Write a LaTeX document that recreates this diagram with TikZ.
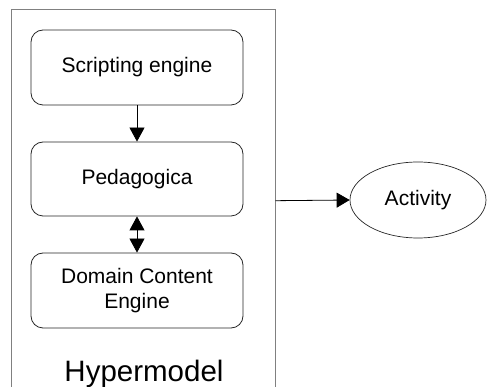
\documentclass[tikz,border=0pt]{standalone}
\usepackage{fontspec}
\setmainfont{Liberation Sans}
\usetikzlibrary{shapes.geometric,arrows.meta}
\begin{document}
\begin{tikzpicture}[x=1pt,y=-1pt,
  box/.style={draw=black!85,line width=0.8pt,rounded corners=12pt,minimum width=212pt,minimum height=75pt,align=center,inner sep=0pt,font=\fontsize{21}{25}\selectfont},
  frame/.style={draw=black!50,line width=1pt},
  conn/.style={draw=black,line width=0.8pt},
  bigtip/.tip={Triangle[length=14pt,width=15pt]}
]
\useasboundingbox (0,0) rectangle (488,387);
\draw[frame] (11,390) -- (11,9.5) -- (275.5,9.5) -- (275.5,390);
\node[box] (se) at (137,67.5) {Scripting engine};
\node[box, minimum height=74pt] (ped) at (137,179) {Pedagogica};
\node[box] (dce) at (137,290.5) {Domain Content\\Engine};
\node[anchor=base,font=\fontsize{29.5}{31}\selectfont] (hm) at (144,382) {Hypermodel};
\node[ellipse,draw=black!85,line width=0.7pt,minimum width=136pt,minimum height=76pt,inner sep=0pt,font=\fontsize{21}{25}\selectfont] (act) at (418,200) {Activity};
\coordinate (hmR) at (275.5,200.7);
\draw[conn,-bigtip] (se) -- (ped);
\draw[conn,bigtip-bigtip] (ped) -- (dce);
\draw[conn,-{Triangle[length=13pt,width=15pt]}] (hmR) -- (act.west);
\end{tikzpicture}
\end{document}
